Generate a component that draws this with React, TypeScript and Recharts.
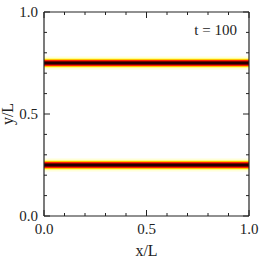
import { ComposedChart, Label, ReferenceArea, XAxis, YAxis } from 'recharts'

// density stripes at y/L = 0.25 and 0.75, drawn as nested layers of a profile
const bandCenters = [0.25, 0.75]
const profileHalfWidths = [0.032, 0.025, 0.02, 0.016, 0.013, 0.01, 0.006, 0.003]
const profileDensity = [0.04, 0.12, 0.3, 0.48, 0.62, 0.78, 0.92, 0.97]

const majorTicks = [0, 0.5, 1]
const minorTicks = [0, 0.1, 0.2, 0.3, 0.4, 0.5, 0.6, 0.7, 0.8, 0.9, 1]
const timeLabel = 't = 100'
const xLabel = 'x/L'
const yLabel = 'y/L'

const FONT = '"Liberation Serif", "Times New Roman", serif'
const INK = '#222'

// matplotlib "hot" colormap, reversed so high density is dark
function hotR(d: number): string {
  const v = 1 - d
  const c = (n: number) => Math.round(255 * Math.min(1, Math.max(0, n)))
  return `rgb(${c(v / 0.365)},${c((v - 0.365) / 0.375)},${c((v - 0.74) / 0.26)})`
}

const rows = minorTicks.map((x) => ({ x }))
const labelStyle = { fontSize: 15, fill: INK, fontFamily: FONT }
const axisLine = { stroke: INK, strokeWidth: 1.2 }

type Side = 'bottom' | 'left' | 'top' | 'right'

// inward tick mark (long on major values) plus the label on the bottom/left axes
function frameTick(side: Side, gap: number) {
  return (p: any) => {
    const v: number = p.payload.value
    const major = majorTicks.includes(v)
    const len = major ? 6 : 3
    const text = major ? v.toFixed(1) : null
    if (side === 'bottom') {
      const ay = p.y - gap
      return (
        <g>
          <line x1={p.x} x2={p.x} y1={ay} y2={ay - len} stroke={INK} />
          {text && (
            <text x={p.x} y={p.y} dy="0.71em" textAnchor="middle" style={labelStyle}>
              {text}
            </text>
          )}
        </g>
      )
    }
    if (side === 'left') {
      const ax = p.x + gap
      return (
        <g>
          <line x1={ax} x2={ax + len} y1={p.y} y2={p.y} stroke={INK} />
          {text && (
            <text x={p.x} y={p.y} dy="0.355em" textAnchor="end" style={labelStyle}>
              {text}
            </text>
          )}
        </g>
      )
    }
    if (side === 'top') {
      return <line x1={p.x} x2={p.x} y1={p.y + gap} y2={p.y + gap + len} stroke={INK} />
    }
    return <line x1={p.x - gap} x2={p.x - gap - len} y1={p.y} y2={p.y} stroke={INK} />
  }
}

const xCommon = { type: 'number' as const, dataKey: 'x', domain: [0, 1], allowDataOverflow: true, ticks: minorTicks, interval: 0 as const, tickLine: false, tickSize: 0 }
const yCommon = { type: 'number' as const, domain: [0, 1], allowDataOverflow: true, ticks: minorTicks, interval: 0 as const, tickLine: false, tickSize: 0 }

export default function App() {
  return (
    <div style={{ position: 'absolute', left: 0, top: 0, width: 262, height: 262, background: '#fff' }}>
      <ComposedChart width={262} height={262} data={rows} margin={{ top: 0, right: 0, bottom: 0, left: 0 }}>
        {bandCenters.flatMap((c) =>
          profileHalfWidths.map((hw, i) => (
            <ReferenceArea
              key={`${c}-${i}`}
              xAxisId="x"
              yAxisId="y"
              x1={0}
              x2={1}
              y1={c - hw}
              y2={c + hw}
              fill={hotR(profileDensity[i])}
              fillOpacity={1}
              stroke="none"
              ifOverflow="hidden"
            />
          )),
        )}

        <XAxis xAxisId="x" {...xCommon} tick={frameTick('bottom', 7)} tickMargin={7} axisLine={axisLine} height={46}>
          <Label value={xLabel} position="insideBottom" offset={6} style={{ fontSize: 16, fill: INK, fontFamily: FONT }} />
        </XAxis>
        <XAxis xAxisId="xt" orientation="top" {...xCommon} tick={frameTick('top', 0)} tickMargin={0} axisLine={axisLine} height={12} />

        <YAxis yAxisId="y" {...yCommon} tick={frameTick('left', 6)} tickMargin={6} axisLine={axisLine} width={44}>
          <Label
            value={yLabel}
            content={({ viewBox }: any) => {
              const cx = viewBox.x + 13
              const cy = viewBox.y + viewBox.height / 2
              return (
                <text x={cx} y={cy} transform={`rotate(-90 ${cx} ${cy})`} textAnchor="middle" style={{ fontSize: 16, fill: INK, fontFamily: FONT }}>
                  {yLabel}
                </text>
              )
            }}
          />
        </YAxis>
        <YAxis yAxisId="yr" orientation="right" {...yCommon} tick={frameTick('right', 0)} tickMargin={0} axisLine={axisLine} width={13} />
      </ComposedChart>
      <div style={{ position: 'absolute', right: 25, top: 23, fontSize: 15, lineHeight: 1, fontFamily: FONT, color: INK, whiteSpace: 'pre' }}>
        {timeLabel}
      </div>
    </div>
  )
}
